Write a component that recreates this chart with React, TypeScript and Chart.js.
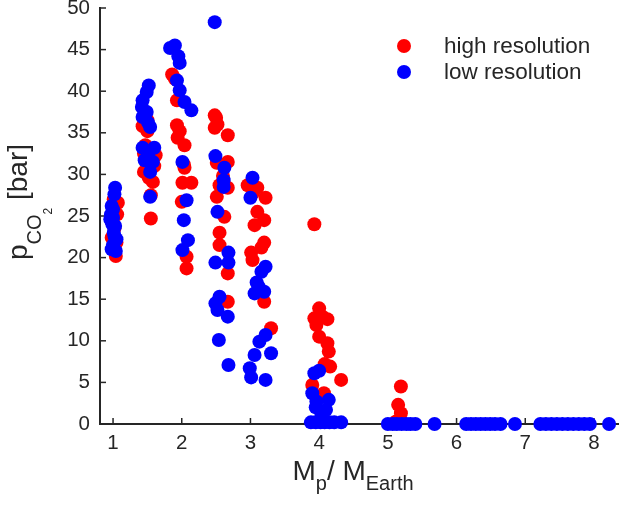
import React, { useEffect, useRef } from "react";
import { Chart, registerables } from "chart.js";
Chart.register(...registerables);

const FONT = '"Liberation Sans", Arial, Helvetica, sans-serif';
const INK = "#262626";

const seriesNames = ["high resolution", "low resolution"];
const seriesColors = ["rgb(255,0,0)", "rgb(0,0,255)"];
const xTicks = [1, 2, 3, 4, 5, 6, 7, 8];
const yTicks = [0, 5, 10, 15, 20, 25, 30, 35, 40, 45, 50];

const highRes: number[][] = [
  [1.04, 20.2], [1.0, 21.0], [0.98, 22.4], [1.02, 23.5], [0.98, 24.3], [1.06, 25.2], [1.07, 26.6], [1.01, 27.0], [1.05, 21.8],
  [1.55, 24.7], [1.43, 35.8], [1.5, 35.2], [1.45, 30.3], [1.52, 29.6], [1.58, 29.1], [1.55, 27.5], [1.62, 32.3], [1.45, 32.5], [1.5, 36.5], [1.6, 31.0], [1.47, 33.5],
  [1.86, 42.0], [1.93, 38.9], [1.93, 35.9], [1.94, 34.4], [2.04, 33.5], [2.04, 30.8], [2.01, 29.0], [2.14, 29.0], [2.0, 26.7], [2.07, 20.1], [2.07, 18.7], [1.9, 41.5], [1.97, 35.2], [2.03, 31.2],
  [2.48, 37.1], [2.52, 36.0], [2.48, 35.6], [2.67, 34.7], [2.67, 31.5], [2.51, 31.4], [2.55, 28.7], [2.67, 28.4], [2.51, 27.3], [2.62, 24.9], [2.55, 23.0], [2.55, 21.5], [2.67, 18.1], [2.67, 14.7], [2.6, 29.8], [2.5, 36.8],
  [2.96, 28.7], [3.1, 28.4], [3.22, 27.2], [3.1, 25.5], [3.2, 24.5], [3.06, 23.9], [3.2, 21.8], [3.16, 21.2], [3.01, 20.6], [3.03, 19.7], [3.2, 14.7], [3.3, 11.5], [3.04, 27.8],
  [3.93, 24.0], [4.0, 13.9], [3.93, 12.7], [4.12, 12.6], [3.96, 11.9], [4.0, 10.5], [4.12, 9.7], [4.14, 8.7], [4.16, 6.9], [4.32, 5.3], [3.9, 4.7], [4.07, 3.7], [4.05, 12.9], [4.08, 7.2],
  [5.19, 4.5], [5.15, 2.3], [5.19, 1.3], [5.12, 0.3],
];

const lowRes: number[][] = [
  [1.03, 28.4], [1.02, 27.6], [0.98, 26.2], [1.0, 25.8], [0.97, 25.2], [0.96, 24.6], [1.0, 24.8], [1.03, 23.8], [1.01, 23.0], [1.05, 22.2], [1.0, 21.5], [0.98, 21.0], [1.04, 20.8], [1.02, 22.6], [0.99, 24.0],
  [1.52, 40.7], [1.49, 39.9], [1.43, 38.9], [1.42, 38.1], [1.49, 37.5], [1.43, 36.9], [1.51, 36.2], [1.54, 35.7], [1.43, 33.2], [1.6, 33.2], [1.51, 32.3], [1.46, 31.7], [1.58, 31.5], [1.54, 30.3], [1.54, 27.3],
  [1.9, 45.5], [1.83, 45.2], [1.97, 43.4], [1.93, 41.3], [1.97, 40.1], [2.04, 38.7], [2.14, 37.7], [2.01, 31.5], [2.07, 26.9], [2.03, 24.5], [2.09, 22.1], [2.01, 20.9], [1.95, 44.2],
  [2.48, 48.3], [2.49, 32.2], [2.62, 30.8], [2.61, 29.3], [2.61, 28.5], [2.52, 25.5], [2.68, 20.6], [2.49, 19.4], [2.68, 19.4], [2.55, 15.3], [2.49, 14.5], [2.52, 13.7], [2.67, 12.9], [2.54, 10.1], [2.68, 7.1],
  [3.03, 29.6], [3.0, 27.2], [3.22, 18.9], [3.16, 18.3], [3.09, 17.0], [3.2, 15.9], [3.06, 15.7], [3.22, 10.7], [3.13, 9.9], [3.3, 8.5], [3.06, 8.3], [2.99, 6.7], [3.01, 5.6], [3.22, 5.3], [3.12, 16.5],
  [4.0, 6.4], [3.93, 6.1], [3.9, 3.7], [4.14, 2.9], [3.96, 2.7], [4.1, 1.7], [4.03, 1.3], [3.95, 2.0], [4.05, 0.8], [3.88, 0.2], [3.95, 0.2], [4.02, 0.2], [4.08, 0.2], [4.15, 0.2], [4.22, 0.2], [4.32, 0.2],
  [5.0, 0], [5.07, 0], [5.13, 0], [5.2, 0], [5.27, 0], [5.33, 0], [5.4, 0], [5.68, 0],
  [6.14, 0], [6.21, 0], [6.28, 0], [6.35, 0], [6.42, 0], [6.49, 0], [6.56, 0], [6.64, 0], [6.85, 0],
  [7.22, 0], [7.3, 0], [7.38, 0], [7.46, 0], [7.54, 0], [7.62, 0], [7.7, 0], [7.78, 0], [7.86, 0], [7.94, 0], [8.22, 0],
];

type Part = { t: string; s: number; dy: number };

function drawRich(ctx: CanvasRenderingContext2D, parts: Part[], cx: number, cy: number, rot: number) {
  ctx.save();
  ctx.translate(cx, cy);
  ctx.rotate(rot);
  ctx.fillStyle = INK;
  ctx.textBaseline = "alphabetic";
  ctx.textAlign = "left";
  let total = 0;
  const widths = parts.map((p) => {
    ctx.font = `${p.s}px ${FONT}`;
    const w = ctx.measureText(p.t).width;
    total += w;
    return w;
  });
  let x = -total / 2;
  parts.forEach((p, i) => {
    ctx.font = `${p.s}px ${FONT}`;
    ctx.fillText(p.t, x, p.dy);
    x += widths[i];
  });
  ctx.restore();
}

const decor = {
  id: "decor",
  beforeDatasetsDraw(chart: any) {
    const ctx = chart.ctx;
    const { left, bottom } = chart.chartArea;
    ctx.save();
    ctx.strokeStyle = INK;
    ctx.lineWidth = 1.5;
    for (const v of yTicks) {
      const py = chart.scales.y.getPixelForValue(v);
      ctx.beginPath();
      ctx.moveTo(left, py);
      ctx.lineTo(left + 6, py);
      ctx.stroke();
    }
    for (const v of xTicks) {
      const px = chart.scales.x.getPixelForValue(v);
      ctx.beginPath();
      ctx.moveTo(px, bottom);
      ctx.lineTo(px, bottom - 6);
      ctx.stroke();
    }
    ctx.restore();
  },
  afterDraw(chart: any) {
    const ctx = chart.ctx;
    const { left, right, top, bottom } = chart.chartArea;
    drawRich(
      ctx,
      [
        { t: "M", s: 28, dy: 0 },
        { t: "p", s: 20, dy: 10 },
        { t: "/ M", s: 28, dy: 0 },
        { t: "Earth", s: 20, dy: 10 },
      ],
      (left + right) / 2 - 6,
      480,
      0
    );
    drawRich(
      ctx,
      [
        { t: "p", s: 28, dy: 0 },
        { t: "CO", s: 20, dy: 14 },
        { t: "2", s: 12, dy: 25 },
        { t: " [bar]", s: 28, dy: 0 },
      ],
      27,
      (top + bottom) / 2 - 14,
      -Math.PI / 2
    );
    ctx.save();
    chart.data.datasets.forEach((ds: any) => {
      const idx = seriesNames.indexOf(ds.label);
      const ly = 46 + idx * 26;
      ctx.fillStyle = ds.backgroundColor;
      ctx.beginPath();
      ctx.arc(404, ly, 7, 0, Math.PI * 2);
      ctx.fill();
      ctx.fillStyle = INK;
      ctx.font = `22.5px ${FONT}`;
      ctx.textBaseline = "middle";
      ctx.textAlign = "left";
      ctx.fillText(ds.label, 444, ly + 1);
    });
    ctx.restore();
  },
};

export default function App() {
  const ref = useRef<HTMLCanvasElement | null>(null);
  useEffect(() => {
    if (!ref.current) return;
    const chart = new Chart(ref.current, {
      type: "scatter",
      data: {
        datasets: [
          {
            label: seriesNames[0],
            data: highRes.map(([x, y]) => ({ x, y })),
            backgroundColor: seriesColors[0],
            borderWidth: 0,
            pointRadius: 7,
            order: 1,
            clip: false as any,
          },
          {
            label: seriesNames[1],
            data: lowRes.map(([x, y]) => ({ x, y })),
            backgroundColor: seriesColors[1],
            borderWidth: 0,
            pointRadius: 7,
            order: 0,
            clip: false as any,
          },
        ],
      },
      options: {
        animation: false,
        responsive: true,
        maintainAspectRatio: false,
        layout: { padding: { left: 0, top: 8, right: 5, bottom: 0 } },
        plugins: { legend: { display: false }, tooltip: { enabled: false } },
        scales: {
          x: {
            type: "linear",
            min: 0.81,
            max: 8.35,
            grid: { display: false, drawTicks: false },
            border: { display: true, color: INK, width: 2 },
            ticks: { color: INK, font: { family: FONT, size: 20.5 }, padding: 7 },
            afterBuildTicks: (s: any) => {
              s.ticks = xTicks.map((v) => ({ value: v }));
            },
            afterFit: (s: any) => {
              s.height = 82;
              s.paddingLeft = 0;
              s.paddingRight = 0;
            },
          },
          y: {
            type: "linear",
            min: 0,
            max: 50,
            grid: { display: false, drawTicks: false },
            border: { display: true, color: INK, width: 2 },
            ticks: { color: INK, font: { family: FONT, size: 20.5 }, padding: 10 },
            afterBuildTicks: (s: any) => {
              s.ticks = yTicks.map((v) => ({ value: v }));
            },
            afterFit: (s: any) => {
              s.width = 100;
              s.paddingTop = 0;
              s.paddingBottom = 0;
            },
          },
        },
      },
      plugins: [decor],
    });
    return () => chart.destroy();
  }, []);
  return (
    <div style={{ position: "absolute", left: 0, top: 0, width: 625, height: 506 }}>
      <canvas ref={ref} />
    </div>
  );
}
